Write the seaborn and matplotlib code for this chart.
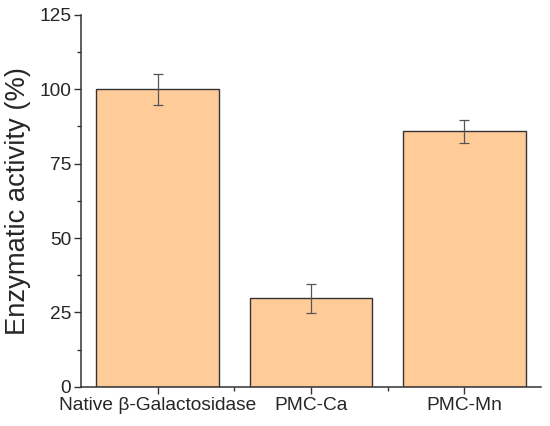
import pandas as pd
import matplotlib
matplotlib.use("Agg")
import matplotlib.pyplot as plt
import seaborn as sns
from matplotlib.ticker import MultipleLocator

# Datos
muestras = ["Native β-Galactosidase", "PMC-Ca", "PMC-Mn"]
actividad = [100.0, 29.7, 85.9]
error = [5.3, 4.8, 3.8]

df = pd.DataFrame({"Muestra": muestras, "Actividad": actividad, "Error": error})

sns.set_style("ticks")
plt.rcParams["font.family"] = ["Liberation Sans", "DejaVu Sans"]

fig = plt.figure(figsize=(5.5, 4.26), dpi=100)
ax = fig.add_axes([0.147, 0.092, 0.837, 0.873])

sns.barplot(data=df, x="Muestra", y="Actividad", color="#FFCC99",
            edgecolor="#333333", linewidth=1.0, width=0.8, saturation=1,
            errorbar=None, ax=ax)
ax.errorbar(df["Muestra"], df["Actividad"], yerr=df["Error"], fmt="none",
            ecolor="#555555", elinewidth=0.9, capsize=3.5, capthick=0.9)

ax.set_xlim(-0.5, 2.5)
ax.set_ylim(0, 125)
ax.yaxis.set_major_locator(MultipleLocator(25))
ax.yaxis.set_minor_locator(MultipleLocator(12.5))
ax.set_xticks([0, 1, 2])
ax.set_xticks([0.5, 1.5], minor=True)

ax.set_xlabel("")
ax.set_ylabel("Enzymatic activity (%)", fontsize=19.7, labelpad=6)
ax.tick_params(axis="both", which="major", direction="out", length=5, width=1,
               labelsize=13.8, color="#333333", pad=2)
ax.tick_params(axis="both", which="minor", direction="out", length=3, width=1,
               color="#333333")
for s in ["left", "bottom"]:
    ax.spines[s].set_color("#333333")
    ax.spines[s].set_linewidth(1.1)
sns.despine(ax=ax)

fig.savefig("out.png", dpi=100)
